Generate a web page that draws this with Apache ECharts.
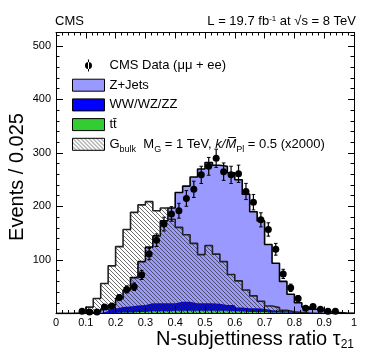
<!DOCTYPE html>
<html><head><meta charset="utf-8">
<script src="https://cdn.jsdelivr.net/npm/echarts@6/dist/echarts.min.js"></script>
<style>html,body{margin:0;padding:0;background:#fff}#c{width:374px;height:359px}</style>
</head><body><div id="c"></div>
<script>
// ---- data (bins of 0.025 from 0 to 1) ----
const binWidth = 0.025;
const nBins = 40;
const dataCounts = [0,0,0,4,3,3,12,14,30,45,50,72,111,137,167,186,192,215,232,259,275,290,265,259,261,228,208,175,157,120,74,48,28,10,13,8,4,4,0,0];
const dataErrors = [0,0,0,2,1.7,1.7,3.5,3.7,5.5,6.7,7.1,8.5,10.5,11.7,12.9,13.6,13.9,14.7,15.2,16.1,16.6,17,16.3,16.1,16.2,15.1,14.4,13.2,12.5,11,8.6,6.9,5.3,3.2,3.6,2.8,2,2,0,0];
const zjets = [0,0,0.5,1,2,3,4,7,16,31,52,81,105,126,154,178,204,216,236,251,263,259,259,247,239,213,180,164,123,89,56,33,18,10.5,7,4.3,2.6,1.7,0.8,0.4];
const diboson = [0,0,0,0,0,1,3.5,8,10,11,12,13,15,15,15,14,17,17,14,14,14,13,11,12,7,7,7,6,4,3,2,2,1,0.5,0.5,0.4,0.2,0.2,0.1,0.1];
const ttbar = [0,0,0,0,0,0,0.5,1,2,2,3,3,4,4,4,5,5,5,5,5,5,5,5,4,4,3,3,3,2,2,2,1,1,1,0.5,0.3,0.2,0.1,0.1,0];
const signal = [0,0,0,1,12,28,56,89,125,157,189,203,209,192,197,176,161,147,131,110,127,111,97,73,61,44,33,23,14,11,6,3,2,1,0.5,0,0,0,0,0];

const names = {
  data: 'CMS Data (μμ + ee)',
  zj: 'Z+Jets',
  vv: 'WW/WZ/ZZ',
  tt: 'tt\u0304',
  sig: 'Gbulk'
};

const FONT = '"Liberation Sans", Arial, Helvetica, sans-serif';

// stacked totals (drawn as overlapping opaque areas: total first, then lower layers)
const stackTT = ttbar.slice();
const stackVV = diboson.map((v, i) => v + ttbar[i]);
const stackZJ = zjets.map((v, i) => v + stackVV[i]);

function stepData(arr) {
  const pts = arr.map((v, i) => [i * binWidth, v]);
  pts.push([nBins * binWidth, arr[arr.length - 1]]);
  return pts;
}

function hatchCanvas() {
  const c = document.createElement('canvas');
  c.width = 4; c.height = 4;
  const g = c.getContext('2d');
  g.strokeStyle = 'rgba(40,40,40,0.85)';
  g.lineWidth = 0.8;
  g.beginPath();
  g.moveTo(-1, -1); g.lineTo(5, 5);
  g.moveTo(-1, 3); g.lineTo(1, 5);
  g.moveTo(3, -1); g.lineTo(5, 1);
  g.stroke();
  return c;
}
const hatch = { image: hatchCanvas(), repeat: 'repeat' };

const pointData = [];
dataCounts.forEach((v, i) => { if (v > 0) pointData.push([(i + 0.5) * binWidth, v, dataErrors[i]]); });

const chart = echarts.init(document.getElementById('c'), null, { renderer: 'canvas' });

const xBase = {
  type: 'value', min: 0, max: 1, interval: 0.1, z: 10,
  axisLine: { show: true, onZero: false, lineStyle: { color: '#000', width: 1 } },
  splitLine: { show: false },
};
const yBase = {
  type: 'value', min: 0, max: 525, z: 10,
  splitLine: { show: false },
};

function areaSeries(name, arr, color, lineColor, lineWidth, z) {
  return { name: name, type: 'line', step: 'end', data: stepData(arr),
    xAxisIndex: 0, yAxisIndex: 0, symbol: 'none', showSymbol: false, z: z,
    itemStyle: { color: color }, lineStyle: { width: lineWidth, color: lineColor },
    areaStyle: { color: color, opacity: 1 } };
}

const option = {
  animation: false,
  backgroundColor: '#fff',
  textStyle: { fontFamily: FONT },
  title: [
    { text: 'CMS', left: 55, top: 15, padding: 0,
      textStyle: { fontFamily: FONT, fontSize: 13, fontWeight: 'normal', color: '#000' } },
    { text: '{n|L = 19.7 fb}{sup|-1}{n| at √s = 8 TeV}', right: 18, top: 15, padding: 0,
      textStyle: { fontFamily: FONT, fontSize: 13, fontWeight: 'normal', color: '#000',
        rich: {
          n: { fontFamily: FONT, fontSize: 13, color: '#000', lineHeight: 14, verticalAlign: 'top' },
          sup: { fontFamily: FONT, fontSize: 8, color: '#000', lineHeight: 8, verticalAlign: 'top' }
        } } }
  ],
  grid: { left: 56, right: 20, top: 32.5, bottom: 45.5, containLabel: false, outerBoundsMode: 'none' },
  xAxis: [
    Object.assign({}, xBase, {
      position: 'bottom',
      axisTick: { show: true, inside: true, length: 7, lineStyle: { color: '#000' } },
      minorTick: { show: true, splitNumber: 5, length: 3.5, lineStyle: { color: '#000' } },
      axisLabel: { show: true, color: '#000', fontSize: 11, fontFamily: FONT, margin: 4 }
    }),
    Object.assign({}, xBase, {
      position: 'top',
      axisTick: { show: true, inside: true, length: 6, lineStyle: { color: '#000' } },
      minorTick: { show: true, splitNumber: 5, length: 3, lineStyle: { color: '#000' } },
      axisLabel: { show: false }
    })
  ],
  yAxis: [
    Object.assign({}, yBase, {
      position: 'left', interval: 100,
      axisLine: { show: true, onZero: false, lineStyle: { color: '#000', width: 1 } },
      axisTick: { show: true, inside: true, length: 7, lineStyle: { color: '#000' } },
      axisLabel: { show: true, color: '#000', fontSize: 11, fontFamily: FONT, margin: 5, showMinLabel: false, showMaxLabel: false }
    }),
    Object.assign({}, yBase, {
      position: 'right', interval: 100,
      axisLine: { show: true, onZero: false, lineStyle: { color: '#000', width: 1 } },
      axisTick: { show: true, inside: true, length: 6, lineStyle: { color: '#000' } },
      axisLabel: { show: false }
    }),
    Object.assign({}, yBase, {
      position: 'right', interval: 20,
      axisLine: { show: false, onZero: false },
      axisTick: { show: true, inside: true, length: 3.5, lineStyle: { color: '#000' } },
      axisLabel: { show: false }
    }),
    Object.assign({}, yBase, {
      position: 'left', interval: 20,
      axisLine: { show: false, onZero: false },
      axisTick: { show: true, inside: true, length: 3.5, lineStyle: { color: '#000' } },
      axisLabel: { show: false }
    })
  ],
  legend: {
    orient: 'vertical', left: 72, top: 59, padding: 0,
    itemWidth: 32, itemHeight: 12, itemGap: 6.7,
    selectedMode: false,
    symbolKeepAspect: true,
    textStyle: {
      fontFamily: FONT, fontSize: 13, color: '#000', lineHeight: 13,
      rich: {
        n: { fontFamily: FONT, fontSize: 13, color: '#000', lineHeight: 13, verticalAlign: 'top' },
        it: { fontFamily: FONT, fontSize: 13, color: '#000', lineHeight: 13, fontStyle: 'italic', verticalAlign: 'top' },
        sub: { fontFamily: FONT, fontSize: 9, color: '#000', lineHeight: 9, padding: [7, 0, 0, 0], verticalAlign: 'top' }
      }
    },
    formatter: function (name) {
      if (name === names.sig) {
        return '{n|G}{sub|bulk}{n|  M}{sub|G}{n| = 1 TeV, }{it|k/M\u0305}{sub|Pl}{n| = 0.5 (x2000)}';
      }
      return name;
    },
    data: [
      { name: names.data, icon: 'path://M3,0L4,0L4,12L3,12Z M0,6A3.5,3.5,0,1,0,7,6A3.5,3.5,0,1,0,0,6Z',
        itemStyle: { color: '#000', borderWidth: 0, opacity: 1 } },
      { name: names.zj, icon: 'rect', itemStyle: { color: '#9999ff', borderColor: '#000', borderWidth: 1 } },
      { name: names.vv, icon: 'rect', itemStyle: { color: '#0000ff', borderColor: '#000', borderWidth: 1 } },
      { name: names.tt, icon: 'rect', itemStyle: { color: '#33cc33', borderColor: '#000', borderWidth: 1 } },
      { name: names.sig, icon: 'rect', itemStyle: { color: hatch, borderColor: '#000', borderWidth: 1 } }
    ]
  },
  graphic: [
    { type: 'text', x: 17, y: 177, rotation: Math.PI / 2, z: 20,
      style: { text: 'Events / 0.025', fontFamily: FONT, fontSize: 20, fill: '#000', align: 'center', verticalAlign: 'middle' } },
    { type: 'text', right: 20, top: 329, z: 20,
      style: { text: '{n|N-subjettiness ratio τ}{sub|21}', fill: '#000',
        rich: {
          n: { fontFamily: FONT, fontSize: 20, fill: '#000', color: '#000', lineHeight: 21, verticalAlign: 'top' },
          sub: { fontFamily: FONT, fontSize: 12, fill: '#000', color: '#000', lineHeight: 12, padding: [10, 0, 0, 0], verticalAlign: 'top' }
        } } }
  ],
  series: [
    areaSeries(names.zj, stackZJ, '#9999ff', '#000', 1.6, 2),
    areaSeries(names.vv, stackVV, '#0000ff', '#0000ff', 0, 2.1),
    areaSeries(names.tt, stackTT, '#33cc33', '#33cc33', 0, 2.2),
    { name: names.sig, type: 'line', step: 'end', data: stepData(signal),
      xAxisIndex: 0, yAxisIndex: 0, symbol: 'none', showSymbol: false, z: 3,
      itemStyle: { color: '#222' }, lineStyle: { width: 1.6, color: '#222' },
      areaStyle: { color: hatch, opacity: 1 } },
    { name: 'errors', type: 'custom', data: pointData, xAxisIndex: 0, yAxisIndex: 0, z: 4,
      encode: { x: 0, y: 1 },
      renderItem: function (params, api) {
        const x = api.value(0), y = api.value(1), e = api.value(2);
        const top = api.coord([x, y + e]);
        const bot = api.coord([x, Math.max(0, y - e)]);
        const cap = 1.8;
        return { type: 'group', children: [
          { type: 'line', shape: { x1: top[0], y1: top[1], x2: bot[0], y2: bot[1] }, style: { stroke: '#000', lineWidth: 1.2 } },
          { type: 'line', shape: { x1: top[0] - cap, y1: top[1], x2: top[0] + cap, y2: top[1] }, style: { stroke: '#000', lineWidth: 1 } },
          { type: 'line', shape: { x1: bot[0] - cap, y1: bot[1], x2: bot[0] + cap, y2: bot[1] }, style: { stroke: '#000', lineWidth: 1 } }
        ] };
      } },
    { name: names.data, type: 'scatter', data: pointData.map(p => [p[0], p[1]]),
      xAxisIndex: 0, yAxisIndex: 0, symbol: 'circle', symbolSize: 7, z: 5,
      itemStyle: { color: '#000', opacity: 1 } }
  ]
};
chart.setOption(option);
</script>
</body></html>
